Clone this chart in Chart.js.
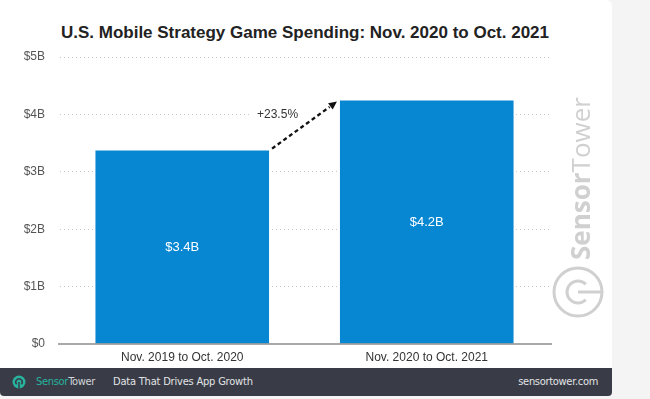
<!DOCTYPE html>
<html>
<head>
<meta charset="utf-8">
<script src="https://cdn.jsdelivr.net/npm/chart.js@4.4.1/dist/chart.umd.min.js"></script>
<style>
  html, body { margin:0; padding:0; }
  body { width:650px; height:399px; background:#f4f4f4; position:relative; overflow:hidden; font-family:"Liberation Sans", Arial, sans-serif; }
  #card { position:absolute; left:0; top:0; width:612px; height:368px; background:#fff; border-top-right-radius:6px; }
  #title { position:absolute; left:0; width:610px; top:23px; text-align:center; font-weight:bold; font-size:17px; color:#222; }
  #wrap { position:absolute; left:0; top:0; width:612px; height:368px; }
  #footer { position:absolute; left:0; top:368px; width:612px; height:28px; background:#393c46; border-bottom-left-radius:4px; border-bottom-right-radius:4px;
            font-family:"DejaVu Sans Condensed","DejaVu Sans",sans-serif; font-stretch:condensed; font-size:11px; line-height:14px; }
  #footer .logo { position:absolute; left:12px; top:7px; }
  #footer .brand { position:absolute; left:36px; top:7px; letter-spacing:-0.3px; }
  #footer .brand .s { color:#26b39f; }
  #footer .brand .t { color:#d2d5d9; }
  #footer .tag { position:absolute; left:113px; top:7px; color:#e2e4e7; letter-spacing:-0.2px; }
  #footer .url { position:absolute; right:14px; top:7px; color:#e2e4e7; letter-spacing:-0.3px; }
</style>
</head>
<body>
<div id="card"></div>
<div id="title">U.S. Mobile Strategy Game Spending: Nov. 2020 to Oct. 2021</div>
<div id="wrap"><canvas id="chart" width="612" height="368"></canvas></div>
<div id="footer">
  <svg class="logo" width="14" height="14" viewBox="0 0 14 14">
    <circle cx="7" cy="7" r="6.5" fill="#26b39f"/>
    <path d="M4.6 9.2 A3.2 3.2 0 1 1 9.4 9.2" fill="none" stroke="#393c46" stroke-width="1.5"/>
    <line x1="7" y1="7" x2="7" y2="13.5" stroke="#393c46" stroke-width="1.5"/>
  </svg>
  <div class="brand"><span class="s">Sensor</span><span class="t">Tower</span></div>
  <div class="tag">Data That Drives App Growth</div>
  <div class="url">sensortower.com</div>
</div>
<script>
// datos (miles de millones USD)
const categories = ["Nov. 2019 to Oct. 2020", "Nov. 2020 to Oct. 2021"];
const spending   = [3.37, 4.24];
const yTicks     = [0, 1, 2, 3, 4, 5];
const growthText = "+23.5%";

const BLUE = "#0786d2";
const fmtB = v => v === 0 ? "$0" : "$" + v + "B";

// marca de agua vertical "SensorTower" + logo
const watermark = {
  id: "watermark",
  beforeDraw(chart) {
    const ctx = chart.ctx;
    ctx.save();
    ctx.fillStyle = "#d0d0d0";
    ctx.translate(590, 260);
    ctx.rotate(-Math.PI / 2);
    ctx.textBaseline = "alphabetic";
    ctx.textAlign = "left";
    ctx.font = "bold 26px 'Open Sans'";
    ctx.fillText("Sensor", 0, 0);
    const w = ctx.measureText("Sensor").width;
    ctx.font = "26px 'Open Sans'";
    ctx.fillText("Tower", w, 0);
    ctx.restore();

    ctx.save();
    ctx.strokeStyle = "#d0d0d0";
    ctx.lineWidth = 3;
    ctx.beginPath(); ctx.arc(578, 292, 24, 0, Math.PI * 2); ctx.stroke();
    ctx.beginPath(); ctx.arc(578, 292, 11, Math.PI * 0.25, Math.PI * 1.75); ctx.stroke();
    ctx.beginPath(); ctx.moveTo(578, 292); ctx.lineTo(601, 292); ctx.stroke();
    ctx.restore();
  }
};

// línea base, etiquetas de barra y flecha de crecimiento
const annotations = {
  id: "annotations",
  afterDatasetsDraw(chart) {
    const ctx = chart.ctx, ys = chart.scales.y, area = chart.chartArea;
    const meta = chart.getDatasetMeta(0);
    const y0 = ys.getPixelForValue(0);

    ctx.save();
    ctx.strokeStyle = "#8c8c8c";
    ctx.lineWidth = 1.5;
    ctx.beginPath(); ctx.moveTo(area.left - 2, y0); ctx.lineTo(area.right + 3, y0); ctx.stroke();

    ctx.fillStyle = "#fff";
    ctx.font = "13px 'Liberation Sans'";
    ctx.textAlign = "center";
    ctx.textBaseline = "middle";
    meta.data.forEach((bar, i) => {
      ctx.fillText("$" + spending[i].toFixed(1) + "B", bar.x, (bar.y + bar.base) / 2);
    });

    const a = meta.data[0], b = meta.data[1];
    const x1 = a.x + a.width / 2 + 3, y1 = a.y - 2;
    const x2 = b.x - b.width / 2 - 3, y2 = b.y + 1;

    // tapa la cuadrícula detrás del texto
    const yt = ys.getPixelForValue(4);
    ctx.fillStyle = "#fff";
    ctx.fillRect(x1 - 20, yt - 8, x2 - x1 + 20, 16);

    ctx.fillStyle = "#333";
    ctx.font = "12px 'Liberation Sans'";
    ctx.textAlign = "right";
    ctx.fillText(growthText, a.x + a.width / 2 + 29, yt);

    const ang = Math.atan2(y2 - y1, x2 - x1);
    const hl = 9;
    ctx.strokeStyle = "#111";
    ctx.lineWidth = 2.3;
    ctx.setLineDash([4, 3]);
    ctx.beginPath();
    ctx.moveTo(x1, y1);
    ctx.lineTo(x2 - hl * Math.cos(ang), y2 - hl * Math.sin(ang));
    ctx.stroke();
    ctx.setLineDash([]);
    ctx.fillStyle = "#111";
    ctx.beginPath();
    ctx.moveTo(x2, y2);
    ctx.lineTo(x2 - hl * Math.cos(ang - 0.45), y2 - hl * Math.sin(ang - 0.45));
    ctx.lineTo(x2 - hl * Math.cos(ang + 0.45), y2 - hl * Math.sin(ang + 0.45));
    ctx.closePath();
    ctx.fill();
    ctx.restore();
  }
};

new Chart(document.getElementById("chart"), {
  type: "bar",
  data: {
    labels: categories,
    datasets: [{ data: spending, backgroundColor: BLUE, barPercentage: 0.71, categoryPercentage: 1 }]
  },
  options: {
    responsive: false,
    animation: false,
    layout: { padding: { top: 57, left: 0, right: 63, bottom: 0 } },
    plugins: { legend: { display: false }, tooltip: { enabled: false } },
    scales: {
      x: {
        grid: { display: false, drawTicks: false },
        border: { display: false },
        ticks: { color: "#333", padding: 6, font: { family: "'Liberation Sans'", size: 12 } },
        afterFit: s => { s.height = 24; }
      },
      y: {
        min: 0, max: 5,
        afterBuildTicks: s => { s.ticks = yTicks.map(v => ({ value: v })); },
        grid: {
          drawTicks: false,
          color: c => c.tick && c.tick.value === 0 ? "rgba(0,0,0,0)" : "#c8c8c8",
          lineWidth: 1
        },
        border: { display: false, dash: [1, 3] },
        ticks: { color: "#555", padding: 15, callback: v => fmtB(v), font: { family: "'Liberation Sans'", size: 12 } },
        afterFit: s => { s.width = 60; }
      }
    }
  },
  plugins: [watermark, annotations]
});
</script>
</body>
</html>
